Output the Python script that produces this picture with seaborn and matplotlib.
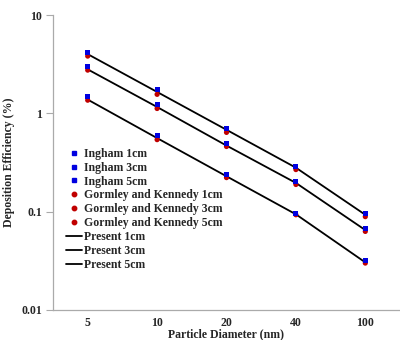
import pandas as pd
import matplotlib.pyplot as plt
import seaborn as sns
from matplotlib.lines import Line2D

# Datos
diametros = ["5", "10", "20", "40", "100"]

ingham_1cm = [4.19, 1.76, 0.70, 0.288, 0.095]
ingham_3cm = [3.02, 1.24, 0.49, 0.202, 0.067]
ingham_5cm = [1.49, 0.60, 0.239, 0.095, 0.0316]

gk_1cm = [3.82, 1.56, 0.64, 0.268, 0.089]
gk_3cm = [2.75, 1.12, 0.46, 0.189, 0.063]
gk_5cm = [1.36, 0.54, 0.222, 0.093, 0.030]

present_1cm = [4.00, 1.65, 0.68, 0.280, 0.093]
present_3cm = [2.80, 1.16, 0.47, 0.196, 0.065]
present_5cm = [1.38, 0.56, 0.229, 0.094, 0.0305]

sns.set_style("white")
plt.rcParams['font.family'] = ['Liberation Serif', 'DejaVu Serif']
plt.rcParams['font.weight'] = 'bold'

fig = plt.figure(figsize=(4, 3.4), dpi=100)
ax = fig.add_axes([53 / 400, 30 / 340, 347 / 400, 295 / 340])

for vals in [present_1cm, present_3cm, present_5cm]:
    df = pd.DataFrame({"d": diametros, "v": vals})
    sns.lineplot(data=df, x="d", y="v", color="black", linewidth=1.3, ax=ax, sort=False)

for vals in [gk_1cm, gk_3cm, gk_5cm]:
    df = pd.DataFrame({"d": diametros, "v": vals})
    sns.scatterplot(data=df, x="d", y="v", color="#c00000", marker="o", s=14,
                    edgecolor="none", ax=ax, zorder=3)
for vals in [ingham_1cm, ingham_3cm, ingham_5cm]:
    df = pd.DataFrame({"d": diametros, "v": vals})
    sns.scatterplot(data=df, x="d", y="v", color="#0000e0", marker="s", s=12,
                    edgecolor="none", ax=ax, zorder=4)

ax.set_yscale("log")
ax.set_ylim(0.01, 10)
ax.set_xlim(-0.5, 4.5)
ax.set_yticks([0.01, 0.1, 1, 10])
ax.set_yticklabels(["0.01", "0.1", "1", "10"])
ax.minorticks_off()
ax.tick_params(axis="y", which="major", length=5, width=0.8, color="#aaaaaa",
               labelsize=8.5, pad=3, left=True)
ax.tick_params(axis="x", length=0, labelsize=8.5, pad=5)
for sp in ["top", "right"]:
    ax.spines[sp].set_visible(False)
for sp in ["left", "bottom"]:
    ax.spines[sp].set_color("#aaaaaa")
    ax.spines[sp].set_linewidth(0.9)

ax.set_xlabel("Particle Diameter (nm)", fontsize=8.5, fontweight="bold")
ax.set_ylabel("Deposition Efficiency (%)", fontsize=8.5, fontweight="bold")
ax.xaxis.label.set_va("center")
ax.xaxis.set_label_coords(0.5, -0.083)
ax.yaxis.set_label_coords(-0.11, 0.5)

handles = []
for lab in ["Ingham 1cm", "Ingham 3cm", "Ingham 5cm"]:
    handles.append(Line2D([], [], linestyle="none", marker="s", markersize=3,
                          color="#0000e0", label=lab))
for lab in ["Gormley and Kennedy 1cm", "Gormley and Kennedy 3cm", "Gormley and Kennedy 5cm"]:
    handles.append(Line2D([], [], linestyle="none", marker="o", markersize=3.2,
                          color="#c00000", label=lab))
for lab in ["Present 1cm", "Present 3cm", "Present 5cm"]:
    handles.append(Line2D([], [], color="black", linewidth=1.3, label=lab))

ax.legend(handles=handles, loc="upper left", bbox_to_anchor=(0.02, 0.57),
          frameon=False, fontsize=8.5, handlelength=1.4, handletextpad=0.15,
          labelspacing=0.16, borderpad=0)

fig.savefig("out.png", dpi=100)
